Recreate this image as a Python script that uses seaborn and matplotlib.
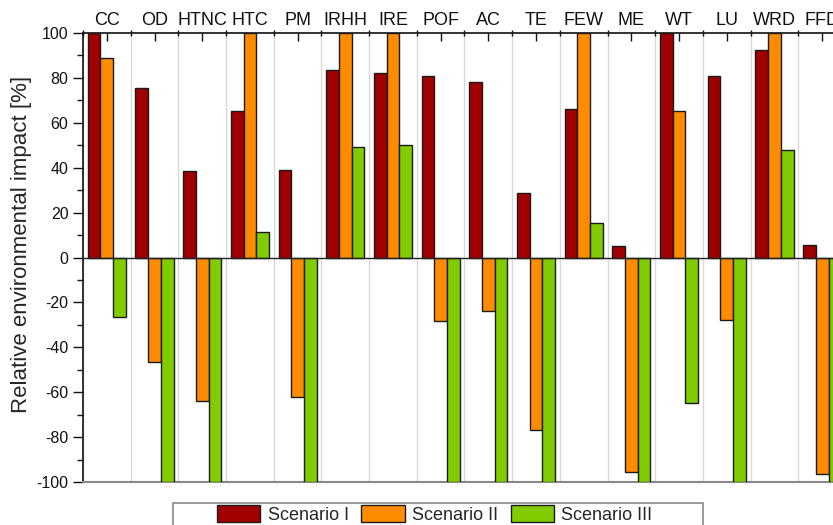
import matplotlib
matplotlib.use("Agg")
import matplotlib.pyplot as plt
from matplotlib.patches import Rectangle, Patch
from matplotlib.ticker import MultipleLocator, FixedLocator
import seaborn as sns
import pandas as pd
import numpy as np

categories = ["CC", "OD", "HTNC", "HTC", "PM", "IRHH", "IRE", "POF",
              "AC", "TE", "FEW", "ME", "WT", "LU", "WRD", "FFD"]
scenario_1 = [100, 75.7, 38.7, 65.4, 39.0, 83.5, 82.3, 80.7,
              78.3, 28.8, 66.2, 5.0, 100, 80.7, 92.6, 5.6]
scenario_2 = [88.7, -46.4, -63.9, 100, -62.0, 100, 100, -28.4,
              -23.8, -76.8, 100, -95.7, 65.3, -27.8, 100, -96.3]
scenario_3 = [-26.7, -100, -100, 11.3, -100, 49.4, 50.1, -100,
              -100, -100, 15.4, -100, -64.6, -100, 48.1, -100]
scenarios = ["Scenario I", "Scenario II", "Scenario III"]
colors = ["#A00000", "#FF8C00", "#80CC00"]

df = pd.DataFrame({
    "category": categories * 3,
    "value": scenario_1 + scenario_2 + scenario_3,
    "scenario": [s for s in scenarios for _ in categories],
})

sns.set_style("white")
plt.rcParams["font.family"] = ["Liberation Sans", "DejaVu Sans"]
plt.rcParams["axes.unicode_minus"] = False

W, H = 833, 525
fig = plt.figure(figsize=(W / 100, H / 100), dpi=100)
left_px, right_px, top_px, bot_px = 83, 846, 33, 482
ax = fig.add_axes([left_px / W, 1 - bot_px / H, (right_px - left_px) / W, (bot_px - top_px) / H])

sns.barplot(data=df, x="category", y="value", hue="scenario", order=categories,
            hue_order=scenarios, palette=colors, saturation=1, edgecolor="#1a1a1a",
            linewidth=1.0, width=0.8, ax=ax, legend=False, zorder=3)

ax.set_xlim(-0.5, len(categories) - 0.5)
ax.set_ylim(-100, 100)
ax.axhline(0, color="#222222", lw=1.0, zorder=4)

# x axis on top
ax.xaxis.tick_top()
ax.set_xlabel("")
ax.set_xticks(range(len(categories)))
ax.set_xticklabels(categories, fontsize=13)
ax.xaxis.set_minor_locator(FixedLocator(np.arange(-0.5, len(categories), 1.0)))
ax.tick_params(axis="x", which="major", direction="in", length=6, width=1.0,
               top=True, bottom=False, pad=3, colors="#111111")
ax.tick_params(axis="x", which="minor", direction="inout", length=4, width=1.0,
               top=True, bottom=False, colors="#111111")
ax.grid(axis="x", which="minor", color="#d9d9d9", lw=1.0, zorder=0)
ax.grid(axis="x", which="major", visible=False)

# y axis
ax.yaxis.set_major_locator(MultipleLocator(20))
ax.yaxis.set_minor_locator(MultipleLocator(10))
ax.tick_params(axis="y", which="major", direction="out", length=7, width=1.0,
               labelsize=11.5, left=True, colors="#111111")
ax.tick_params(axis="y", which="minor", direction="out", length=4, width=1.0, left=True,
               colors="#111111")
ax.set_ylabel("Relative environmental impact [%]", fontsize=16)
ax.yaxis.set_label_coords(-0.067, 0.53)

for side in ["top", "left"]:
    ax.spines[side].set_color("#111111")
    ax.spines[side].set_linewidth(1.2)
ax.spines["bottom"].set_color("#888888")
ax.spines["bottom"].set_linewidth(1.5)
ax.spines["right"].set_color("#111111")

# legend
handles = [Patch(facecolor=c, edgecolor="#1a1a1a", lw=1.0, label=s) for c, s in zip(colors, scenarios)]
fig.legend(handles=handles, loc="upper left", bbox_to_anchor=(217 / W, 1 - 505 / H),
           ncol=3, frameon=False, fontsize=13, handlelength=2.4, handleheight=1.1,
           handletextpad=0.4, columnspacing=0.7, borderpad=0, borderaxespad=0)
fig.add_artist(Rectangle((173 / W, -0.05), (703 - 173) / W, 0.05 + (1 - 503 / H),
                         transform=fig.transFigure, fill=False, edgecolor="#888888", lw=1.2))

fig.savefig("out.png", dpi=100)
